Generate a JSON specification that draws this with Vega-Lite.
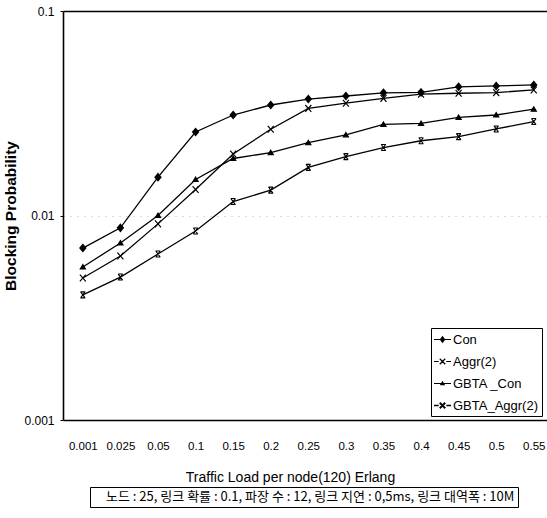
{
  "$schema": "https://vega.github.io/schema/vega-lite/v6.json",
  "autosize": "none",
  "width": 484,
  "height": 409,
  "padding": {"left": 63, "top": 11, "right": 0, "bottom": 98},
  "background": "white",
  "config": {
    "view": {"stroke": null},
    "font": "Liberation Sans"
  },
  "data": {
    "values": [
      {"load": "0.001", "series": "Con", "p": 0.00693},
      {"load": "0.025", "series": "Con", "p": 0.0087},
      {"load": "0.05", "series": "Con", "p": 0.0154},
      {"load": "0.1", "series": "Con", "p": 0.0256},
      {"load": "0.15", "series": "Con", "p": 0.031},
      {"load": "0.2", "series": "Con", "p": 0.0347},
      {"load": "0.25", "series": "Con", "p": 0.0371},
      {"load": "0.3", "series": "Con", "p": 0.0384},
      {"load": "0.35", "series": "Con", "p": 0.0398},
      {"load": "0.4", "series": "Con", "p": 0.04},
      {"load": "0.45", "series": "Con", "p": 0.0426},
      {"load": "0.5", "series": "Con", "p": 0.043},
      {"load": "0.55", "series": "Con", "p": 0.0435},
      {"load": "0.001", "series": "Aggr(2)", "p": 0.00495},
      {"load": "0.025", "series": "Aggr(2)", "p": 0.00634},
      {"load": "0.05", "series": "Aggr(2)", "p": 0.0091},
      {"load": "0.1", "series": "Aggr(2)", "p": 0.0134},
      {"load": "0.15", "series": "Aggr(2)", "p": 0.02},
      {"load": "0.2", "series": "Aggr(2)", "p": 0.0264},
      {"load": "0.25", "series": "Aggr(2)", "p": 0.0334},
      {"load": "0.3", "series": "Aggr(2)", "p": 0.0354},
      {"load": "0.35", "series": "Aggr(2)", "p": 0.0374},
      {"load": "0.4", "series": "Aggr(2)", "p": 0.0392},
      {"load": "0.45", "series": "Aggr(2)", "p": 0.0396},
      {"load": "0.5", "series": "Aggr(2)", "p": 0.0399},
      {"load": "0.55", "series": "Aggr(2)", "p": 0.0411},
      {"load": "0.001", "series": "GBTA _Con", "p": 0.0056},
      {"load": "0.025", "series": "GBTA _Con", "p": 0.00734},
      {"load": "0.05", "series": "GBTA _Con", "p": 0.01},
      {"load": "0.1", "series": "GBTA _Con", "p": 0.015},
      {"load": "0.15", "series": "GBTA _Con", "p": 0.019},
      {"load": "0.2", "series": "GBTA _Con", "p": 0.0203},
      {"load": "0.25", "series": "GBTA _Con", "p": 0.0227},
      {"load": "0.3", "series": "GBTA _Con", "p": 0.0248},
      {"load": "0.35", "series": "GBTA _Con", "p": 0.0279},
      {"load": "0.4", "series": "GBTA _Con", "p": 0.0282},
      {"load": "0.45", "series": "GBTA _Con", "p": 0.0302},
      {"load": "0.5", "series": "GBTA _Con", "p": 0.031},
      {"load": "0.55", "series": "GBTA _Con", "p": 0.0331},
      {"load": "0.001", "series": "GBTA_Aggr(2)", "p": 0.00409},
      {"load": "0.025", "series": "GBTA_Aggr(2)", "p": 0.005},
      {"load": "0.05", "series": "GBTA_Aggr(2)", "p": 0.00648},
      {"load": "0.1", "series": "GBTA_Aggr(2)", "p": 0.0084},
      {"load": "0.15", "series": "GBTA_Aggr(2)", "p": 0.0117},
      {"load": "0.2", "series": "GBTA_Aggr(2)", "p": 0.0133},
      {"load": "0.25", "series": "GBTA_Aggr(2)", "p": 0.0172},
      {"load": "0.3", "series": "GBTA_Aggr(2)", "p": 0.0194},
      {"load": "0.35", "series": "GBTA_Aggr(2)", "p": 0.0215},
      {"load": "0.4", "series": "GBTA_Aggr(2)", "p": 0.0232},
      {"load": "0.45", "series": "GBTA_Aggr(2)", "p": 0.0243},
      {"load": "0.5", "series": "GBTA_Aggr(2)", "p": 0.0265},
      {"load": "0.55", "series": "GBTA_Aggr(2)", "p": 0.0288}
    ]
  },
  "resolve": {"axis": {"x": "independent"}, "scale": {"shape": "independent"}},
  "layer": [
    {
      "mark": {"type": "line", "strokeWidth": 1.3},
      "encoding": {
        "x": {
          "field": "load", "type": "ordinal", "sort": null,
          "scale": {"type": "point", "padding": 0.44, "align": 0.6},
          "axis": {
            "orient": "bottom", "labelAngle": 0, "ticks": false,
            "domainColor": "black", "domainWidth": 1.6,
            "labelFont": "Liberation Sans", "labelFontSize": 11.5, "labelColor": "black",
            "labelPadding": 20,
            "title": "Traffic Load per node(120) Erlang",
            "titleFont": "Liberation Sans", "titleFontSize": 14, "titleFontWeight": "normal", "titleColor": "black",
            "titleX": 227, "titleY": 57, "titleBaseline": "middle", "titleAlign": "center"
          }
        },
        "y": {
          "field": "p", "type": "quantitative",
          "scale": {"type": "log", "domain": [0.001, 0.1]},
          "axis": {
            "values": [0.001, 0.01, 0.1], "format": "~g",
            "domainColor": "black", "domainWidth": 1.6,
            "tickColor": "black", "tickSize": 3,
            "labelFont": "Liberation Sans", "labelFontSize": 12, "labelColor": "black", "labelPadding": 6,
            "grid": true, "gridColor": "#bbbbbb", "gridDash": [1, 6],
            "title": "Blocking Probability",
            "titleFont": "Liberation Sans", "titleFontSize": 15.5, "titleFontWeight": "bold", "titleColor": "black",
            "titlePadding": 5
          }
        },
        "detail": {"field": "series"},
        "color": {
          "datum": "\u2002\u2002노드 : 25, 링크 확률 : 0.1, 파장 수 : 12, 링크 지연 : 0,5ms, 링크 대역폭 : 10M\u2002\u2002",
          "scale": {"range": ["black"]},
          "legend": {
            "orient": "none", "legendX": 27, "legendY": 476,
            "title": null, "strokeColor": "black", "padding": 3,
            "symbolSize": 0, "symbolOpacity": 0, "symbolStrokeWidth": 0, "labelOffset": 0,
            "labelFont": "Noto Sans CJK KR", "labelFontSize": 13, "labelColor": "black", "labelLimit": 700
          }
        }
      }
    },
    {
      "mark": {"type": "point", "filled": true, "fill": "black", "stroke": "black", "opacity": 1, "size": 64},
      "encoding": {
        "x": {
          "field": "load", "type": "ordinal", "sort": null,
          "scale": {"type": "point", "padding": 0.44, "align": 0.6},
          "axis": {"orient": "top", "labels": false, "ticks": false, "title": null, "domainColor": "black", "domainWidth": 1.6}
        },
        "y": {"field": "p", "type": "quantitative", "scale": {"type": "log", "domain": [0.001, 0.1]}},
        "shape": {
          "field": "series", "type": "nominal",
          "scale": {
            "domain": ["Con", "Aggr(2)", "GBTA _Con", "GBTA_Aggr(2)"],
            "range": [
              "M0,-0.9L0.75,0L0,0.9L-0.75,0Z",
              "M-0.75,-0.85L0.75,0.85M0.75,-0.85L-0.75,0.85",
              "M0,-0.6L0.65,0.5L-0.65,0.5Z",
              "M-0.6,-0.75H0.6M-0.6,0.75H0.6M-0.55,-0.75L0.55,0.75M0.55,-0.75L-0.55,0.75"
            ]
          },
          "legend": null
        },
        "strokeWidth": {
          "field": "series", "type": "ordinal",
          "scale": {"domain": ["Con", "Aggr(2)", "GBTA _Con", "GBTA_Aggr(2)"], "range": [1.2, 1.1, 1.2, 1.8]},
          "legend": null
        }
      }
    },
    {
      "mark": {"type": "point", "filled": true, "fill": "black", "stroke": "black", "strokeWidth": 1.3, "opacity": 0},
      "encoding": {
        "x": {
          "field": "load", "type": "ordinal", "sort": null,
          "scale": {"type": "point", "padding": 0.44, "align": 0.6},
          "axis": null
        },
        "y": {"field": "p", "type": "quantitative", "scale": {"type": "log", "domain": [0.001, 0.1]}},
        "shape": {
          "field": "series", "type": "nominal",
          "scale": {
            "domain": ["Con", "Aggr(2)", "GBTA _Con", "GBTA_Aggr(2)"],
            "range": [
              "M-1,-0.07H1V0.07H-1ZM0,-0.45L0.33,0L0,0.45L-0.33,0Z",
              "M-1,-0.07H-0.45V0.07H-1ZM0.45,-0.07H1V0.07H0.45ZM-0.27,-0.37L0.37,0.27L0.27,0.37L-0.37,-0.27ZM0.27,-0.37L0.37,-0.27L-0.27,0.37L-0.37,0.27Z",
              "M-1,-0.07H1V0.07H-1ZM0,-0.32L0.32,0.22L-0.32,0.22Z",
              "M-1,-0.1H-0.45V0.1H-1ZM0.45,-0.1H1V0.1H0.45ZM-0.24,-0.4L0.4,0.24L0.24,0.4L-0.4,-0.24ZM0.24,-0.4L0.4,-0.24L-0.24,0.4L-0.4,0.24Z"
            ]
          },
          "legend": {
            "orient": "none", "legendX": 368, "legendY": 317,
            "title": null, "strokeColor": "black", "padding": 3,
            "symbolSize": 289, "rowPadding": 6, "labelOffset": 2,
            "symbolOpacity": 1, "symbolStrokeColor": "black", "symbolFillColor": "black", "symbolStrokeWidth": 0,
            "labelFont": "Liberation Sans", "labelFontSize": 13, "labelColor": "black"
          }
        }
      }
    }
  ]
}
